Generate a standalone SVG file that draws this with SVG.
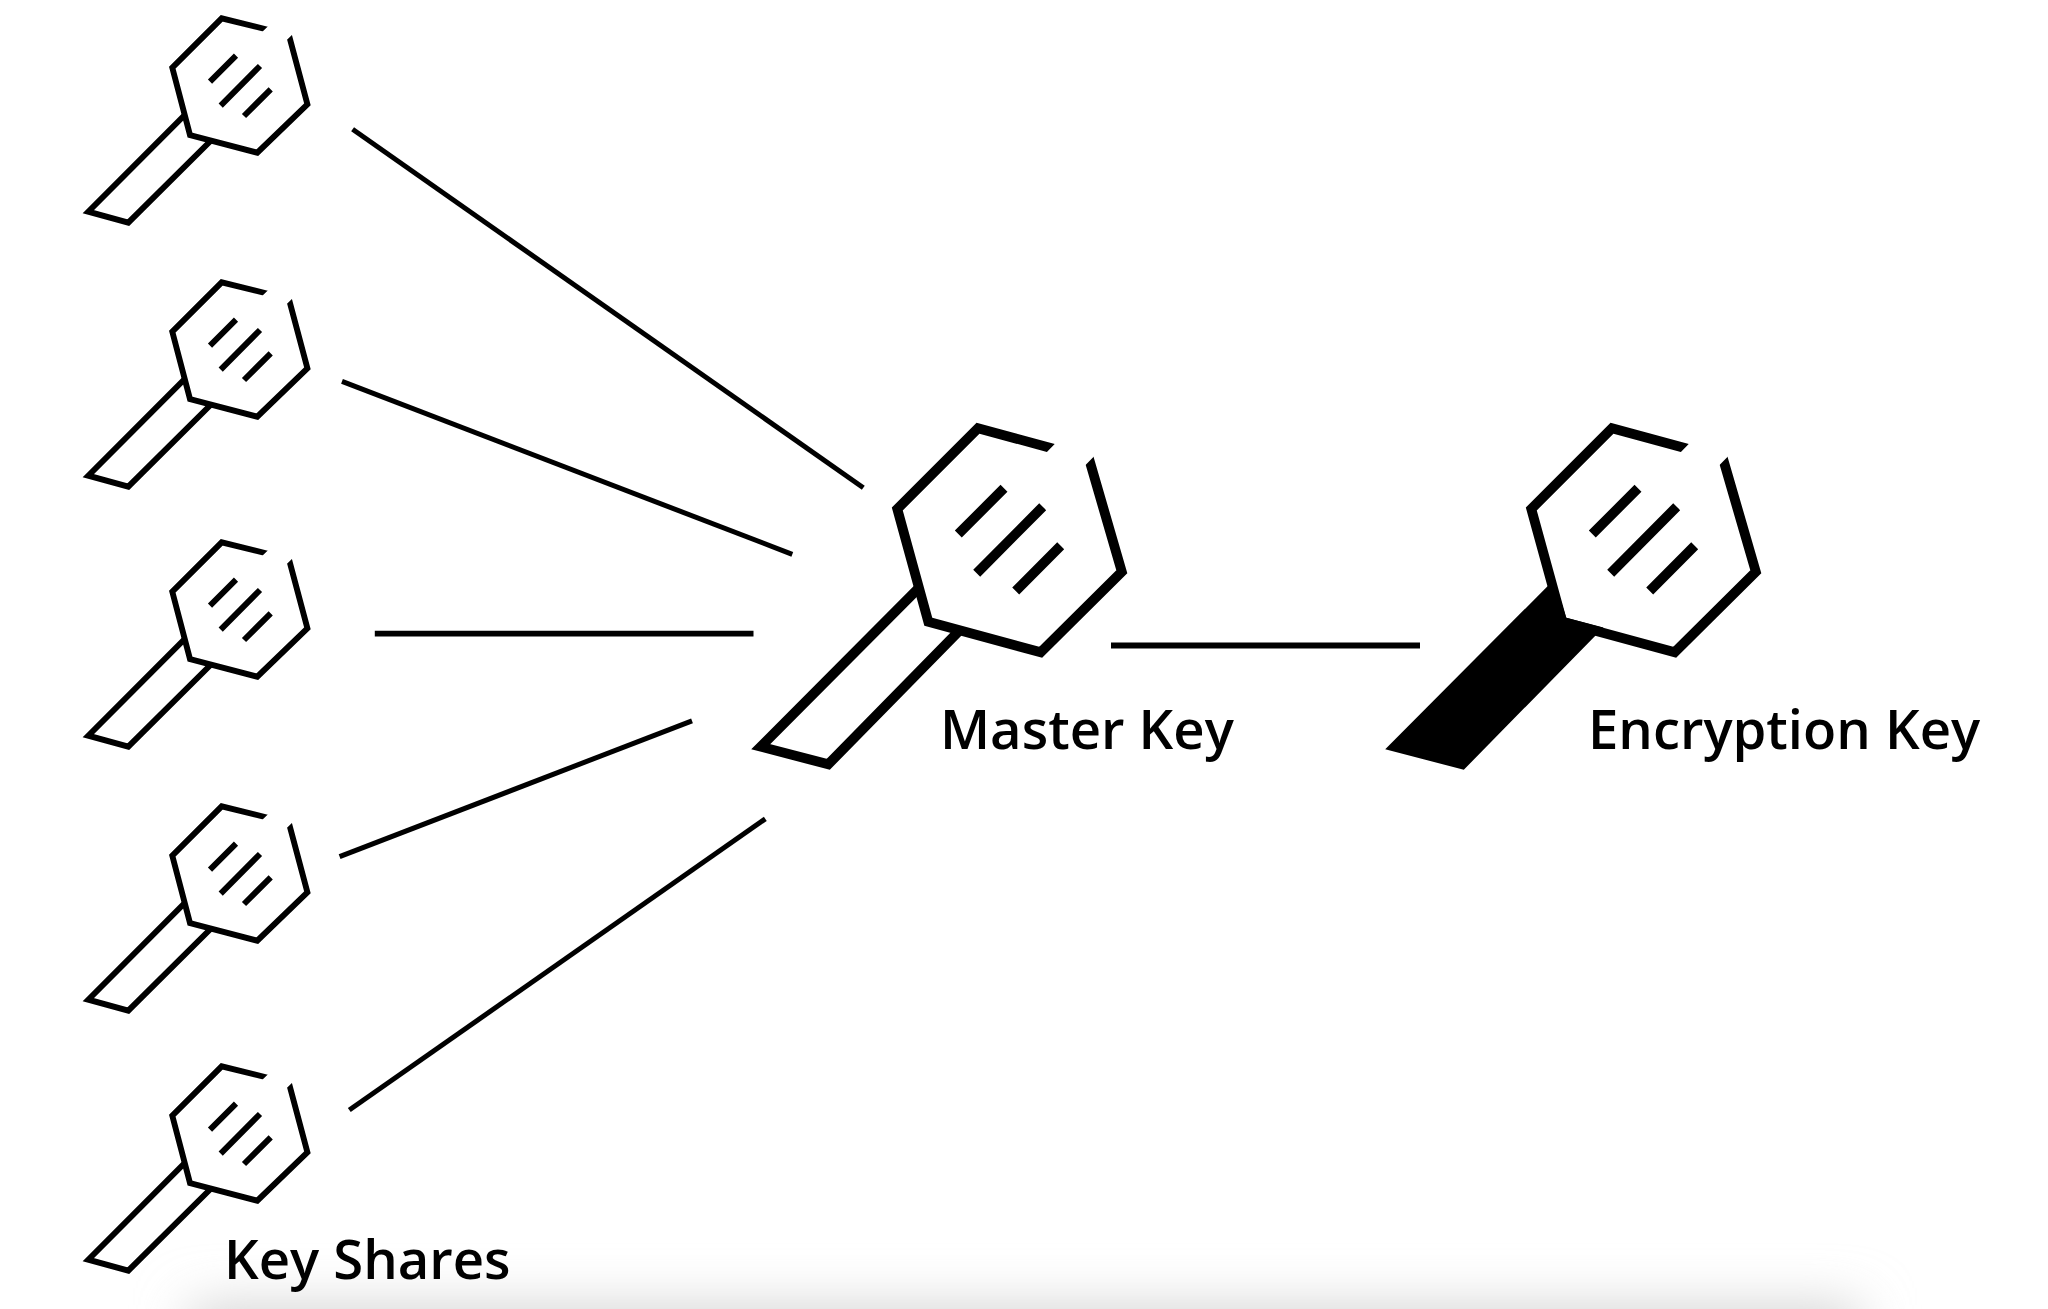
<svg xmlns="http://www.w3.org/2000/svg" width="2048" height="1309" viewBox="0 0 2048 1309">
<style>
.s{fill:none;stroke:#000;stroke-width:5.9;stroke-linejoin:miter;stroke-miterlimit:10}
.m{fill:none;stroke:#000;stroke-width:9.8;stroke-linejoin:miter;stroke-miterlimit:10}
.solid{fill:#000}
.c{fill:none;stroke:#000;stroke-width:5}
.t{font-family:"Open Sans","Noto Sans",sans-serif;font-size:54.4px;font-weight:600;fill:#000}
</style>
<defs>
<filter id="blur" x="-10%" y="-100%" width="120%" height="300%"><feGaussianBlur stdDeviation="26"/></filter>
<clipPath id="gapS"><path clip-rule="evenodd" d="M0 0H400V300H0ZM254.8 38.9L276.4 18.2L301 26.2L279.5 46.9Z"/></clipPath>
<clipPath id="gapL"><path clip-rule="evenodd" d="M700 400H1200V800H700ZM1036.2 463.1L1064.2 434.3L1103.2 447L1075 475.8Z"/></clipPath>
<g id="small" class="s">
<path d="M184.7 115L88.3 211.7L128.3 222.7L211.5 140"/>
<path clip-path="url(#gapS)" d="M271 30.5L221.7 18.3L172.3 67.7L190 135L257.3 152.7L307.4 104.3L287.3 29"/>
<path d="M210 81.7L236 55.7M220.7 105.7L260 66M244 116L270.7 89.3"/>
</g>
<g id="large">
<path clip-path="url(#gapL)" d="M1060 450.4L978 428.3L897.3 509L928.3 621.7L1040.7 652.3L1121.8 571.7L1086 448.4"/>
<path d="M958.3 534L1004 488.3M976.7 573.3L1042.7 506.7M1015.7 591L1060.7 545.7"/>
</g>
</defs>
<rect width="2048" height="1309" fill="#fff"/>
<rect id="shade" x="190" y="1305" width="1670" height="120" fill="#d4d4d4" filter="url(#blur)"/>
<g id="connectors" class="c">
<path d="M352.6 129.3L863.3 487.7"/>
<path d="M342 381.3L792.3 554.3"/>
<path d="M374.8 633.7H753.5" stroke-width="5.8"/>
<path d="M339.6 856.7L692 720.8"/>
<path d="M349.3 1110L765.3 818.9"/>
<path d="M1111 645.5H1420" stroke-width="5.8"/>
</g>
<g id="share1"><use href="#small"/></g>
<g id="share2" transform="translate(0 264)"><use href="#small"/></g>
<g id="share3" transform="translate(0 524)"><use href="#small"/></g>
<g id="share4" transform="translate(0 788)"><use href="#small"/></g>
<g id="share5" transform="translate(0 1048)"><use href="#small"/><text class="t" x="224" y="231">Key Shares</text></g>
<g id="master" class="m">
<path d="M918 588.7L760.7 746.7L828.3 764.3L960 630"/>
<use href="#large"/>
</g>
<text id="master-label" class="t" x="940" y="749">Master Key</text>
<g id="encryption" class="m" transform="translate(634 0)">
<path class="solid" d="M918 588.7L760.7 746.7L828.3 764.3L960 630L928.3 621.7Z"/>
<use href="#large"/>
</g>
<text id="encryption-label" class="t" x="1588" y="749">Encryption Key</text>
</svg>
